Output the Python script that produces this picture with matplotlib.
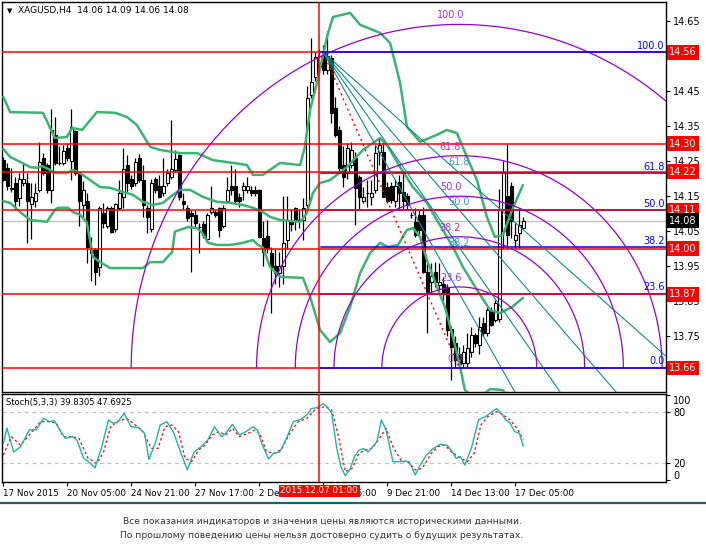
import numpy as np
import matplotlib.pyplot as plt
import matplotlib.transforms as mtransforms
from matplotlib.lines import Line2D

# XAGUSD H4, bars 0..130
opens = [14.254, 14.23, 14.17, 14.187, 14.146, 14.187, 14.187, 14.127, 14.135, 14.168,
         14.258, 14.239, 14.168, 14.325, 14.246, 14.246, 14.287, 14.251, 14.335, 14.216,
         14.125, 14.135, 13.997, 13.997, 13.947, 14.103, 14.066, 14.116, 14.057, 14.116,
         14.149, 14.239, 14.2, 14.187, 14.258, 14.197, 14.116, 14.057, 14.2, 14.178,
         14.159, 14.187, 14.206, 14.225, 14.268, 14.137, 14.116, 14.103, 14.097, 14.063,
         14.07, 14.027, 14.106, 14.106, 14.116, 14.066, 14.135, 14.18, 14.18, 14.149,
         14.168, 14.168, 14.168, 14.168, 14.168, 14.03, 14.037, 13.987, 13.95, 13.93,
         13.95, 14.025, 14.08, 14.116, 14.08, 14.082, 14.125, 14.439, 14.49, 14.52,
         14.56, 14.51, 14.544, 14.401, 14.339, 14.239, 14.215, 14.239, 14.258, 14.206,
         14.135, 14.16, 14.149, 14.168, 14.277, 14.277, 14.177, 14.18, 14.135, 14.19,
         14.163, 14.15, 14.097, 14.077, 14.096, 14.096, 13.935, 13.906, 13.935, 13.897,
         13.90, 13.892, 13.77, 13.73, 13.70, 13.673, 13.673, 13.707, 13.754, 13.726,
         13.787, 13.759, 13.825, 13.797, 13.80, 14.05, 14.15, 14.18, 14.025, 14.044,
         14.06]
highs = [14.261, 14.244, 14.23, 14.206, 14.216, 14.244, 14.216, 14.187, 14.187, 14.306,
         14.273, 14.244, 14.398, 14.377, 14.292, 14.297, 14.301, 14.398, 14.34, 14.22,
         14.192, 14.159, 14.035, 14.002, 14.121, 14.13, 14.121, 14.121, 14.13, 14.197,
         14.287, 14.268, 14.211, 14.258, 14.27, 14.24, 14.125, 14.2, 14.206, 14.211,
         14.258, 14.227, 14.368, 14.282, 14.27, 14.159, 14.125, 14.111, 14.11, 14.073,
         14.08, 14.102, 14.18, 14.11, 14.12, 14.125, 14.206, 14.24, 14.227, 14.16,
         14.19, 14.206, 14.18, 14.18, 14.17, 14.08, 14.082, 14.006, 14.00, 13.99,
         14.15, 14.15, 14.11, 14.12, 14.11, 14.144, 14.463, 14.601, 14.56, 14.57,
         14.58, 14.62, 14.553, 14.434, 14.349, 14.292, 14.301, 14.306, 14.277, 14.211,
         14.177, 14.196, 14.196, 14.296, 14.32, 14.306, 14.19, 14.19, 14.2, 14.21,
         14.215, 14.16, 14.106, 14.115, 14.111, 14.12, 13.959, 13.959, 13.963, 13.959,
         13.92, 13.90, 13.78, 13.75, 13.72, 13.726, 13.759, 13.778, 13.759, 13.806,
         13.806, 13.835, 13.835, 13.854, 14.17, 14.25, 14.30, 14.19, 14.073, 14.115,
         14.09]
lows = [14.192, 14.168, 14.163, 14.111, 14.121, 14.18, 14.016, 14.027, 14.12, 14.163,
        14.21, 14.16, 14.13, 14.239, 14.239, 14.239, 14.25, 14.197, 14.21, 14.066,
        14.092, 13.959, 13.907, 13.897, 13.921, 14.06, 14.058, 14.045, 14.049, 14.11,
        14.116, 14.159, 14.17, 14.18, 14.19, 14.092, 14.045, 14.049, 14.16, 14.144,
        14.15, 14.18, 14.2, 14.22, 14.14, 14.11, 14.08, 13.935, 14.06, 13.987,
        14.03, 14.025, 14.1, 14.09, 14.035, 14.06, 14.13, 14.154, 14.13, 14.12,
        14.14, 14.16, 14.15, 14.15, 14.03, 13.95, 13.987, 13.816, 13.90, 13.89,
        13.90, 14.00, 14.05, 14.054, 14.06, 14.025, 14.111, 14.43, 14.48, 14.50,
        14.50, 14.50, 14.358, 14.32, 14.215, 14.177, 14.2, 14.23, 14.068, 14.111,
        14.13, 14.12, 14.125, 14.16, 14.24, 14.149, 14.13, 14.13, 14.12, 14.11,
        14.11, 14.11, 14.087, 14.035, 14.04, 13.93, 13.759, 13.87, 13.892, 13.88,
        13.85, 13.75, 13.626, 13.659, 13.659, 13.659, 13.659, 13.69, 13.72, 13.70,
        13.75, 13.75, 13.78, 13.792, 13.79, 14.00, 14.00, 14.03, 14.001, 14.001,
        14.06]
closes = [14.197, 14.178, 14.172, 14.135, 14.199, 14.199, 14.135, 14.149, 14.159, 14.247,
          14.216, 14.168, 14.339, 14.244, 14.244, 14.279, 14.258, 14.347, 14.216, 14.135,
          14.168, 14.006, 13.987, 13.935, 14.116, 14.075, 14.116, 14.047, 14.127, 14.159,
          14.227, 14.187, 14.178, 14.249, 14.197, 14.125, 14.092, 14.187, 14.168, 14.147,
          14.178, 14.216, 14.227, 14.256, 14.147, 14.127, 14.087, 14.094, 14.075, 14.061,
          14.04, 14.097, 14.116, 14.097, 14.054, 14.116, 14.168, 14.168, 14.135, 14.135,
          14.178, 14.18, 14.159, 14.159, 14.035, 13.99, 14.001, 13.949, 13.93, 13.95,
          14.016, 14.082, 14.07, 14.082, 14.082, 14.116, 14.429, 14.477, 14.548, 14.55,
          14.51, 14.55, 14.387, 14.325, 14.23, 14.206, 14.287, 14.282, 14.173, 14.149,
          14.149, 14.158, 14.158, 14.272, 14.296, 14.149, 14.135, 14.14, 14.18, 14.16,
          14.135, 14.125, 14.095, 14.039, 14.054, 13.935, 13.873, 13.921, 13.906, 13.906,
          13.87, 13.768, 13.72, 13.683, 13.67, 13.707, 13.716, 13.754, 13.73, 13.778,
          13.759, 13.825, 13.783, 13.844, 14.11, 14.22, 14.04, 14.08, 14.039, 14.068,
          14.08]

# Bollinger bands (bar, price)
bb_up_x = [0, 1.7, 9.9, 12.9, 15.9, 17.2, 19.7, 23.4, 27.9, 30.9, 33.4, 36.7, 39.2, 44.2, 48.4,
           52.4, 57.4, 60.9, 62.4, 64.9, 69.2, 74.2, 75.4, 76.7, 78.4, 80.9, 82.4, 86.7, 89.2,
           94.2, 96.7, 99.2, 100.9, 104.2, 108.4, 110.9, 113.4, 115.9, 118.4, 120.9, 122.9,
           124.9, 127.2, 129.9]
bb_up_y = [14.433, 14.390, 14.388, 14.316, 14.319, 14.345, 14.339, 14.390, 14.388, 14.376,
           14.353, 14.291, 14.282, 14.273, 14.273, 14.253, 14.245, 14.239, 14.211, 14.211,
           14.245, 14.239, 14.291, 14.396, 14.473, 14.604, 14.661, 14.673, 14.639, 14.616,
           14.587, 14.473, 14.348, 14.305, 14.325, 14.339, 14.330, 14.262, 14.196, 14.091,
           14.034, 14.039, 14.111, 14.182]
bb_mid_x = [0, 1.7, 4.2, 6.7, 8.4, 9.7, 11.7, 12.9, 15.9, 17.4, 19.2, 21.7, 24.2, 26.7, 29.9,
            32.4, 34.9, 37.4, 39.9, 42.4, 44.2, 46.7, 49.9, 53.4, 56.7, 59.9, 62.4, 64.9, 66.7,
            69.2, 74.2, 75.9, 77.4, 79.2, 81.7, 85.9, 89.9, 94.2, 96.2, 99.2, 102.4, 105.9,
            108.4, 112.4, 114.9, 118.4, 121.7, 124.2, 127.2, 129.9]
bb_mid_y = [14.285, 14.262, 14.248, 14.233, 14.231, 14.236, 14.225, 14.216, 14.216, 14.225,
            14.216, 14.196, 14.176, 14.174, 14.162, 14.154, 14.134, 14.125, 14.131, 14.154,
            14.168, 14.168, 14.148, 14.134, 14.131, 14.125, 14.117, 14.105, 14.091, 14.082,
            14.077, 14.102, 14.159, 14.188, 14.196, 14.233, 14.282, 14.316, 14.291, 14.233,
            14.176, 14.131, 14.082, 14.005, 13.948, 13.883, 13.825, 13.817, 13.834, 13.860]
bb_low_x = [0, 1.7, 4.2, 6.7, 10.9, 12.9, 13.7, 16.2, 17.4, 19.2, 20.9, 22.4, 24.2, 26.7, 31.7,
            34.9, 36.7, 39.9, 42.2, 42.9, 44.2, 46.2, 48.4, 49.7, 51.2, 53.4, 56.7, 59.9, 62.4,
            63.7, 64.9, 66.7, 69.2, 74.9, 76.7, 79.2, 81.7, 84.2, 86.7, 89.2, 91.7, 94.2, 96.2,
            98.7, 100.9, 102.4, 104.2, 105.9, 108.4, 110.4, 112.4, 114.2, 115.4, 118.4, 121.7,
            124.9, 127.2, 129.9]
bb_low_y = [14.136, 14.131, 14.105, 14.082, 14.077, 14.111, 14.117, 14.117, 14.105, 14.097,
            14.074, 13.977, 13.962, 13.945, 13.945, 13.945, 13.962, 13.962, 13.991, 14.049,
            14.054, 14.062, 14.059, 14.046, 14.017, 14.011, 14.011, 14.017, 14.025, 14.011,
            14.003, 13.948, 13.920, 13.917, 13.863, 13.768, 13.734, 13.760, 13.834, 13.931,
            13.988, 14.017, 14.005, 14.011, 14.054, 14.059, 14.034, 13.968, 13.891, 13.834,
            13.748, 13.663, 13.597, 13.570, 13.600, 13.597, 13.557, 13.538]

# Stochastic (5,3,3)
stoch_k_x = [0, 0.9, 2.6, 4.3, 6.5, 8.2, 10.1, 11.6, 12.7, 14.4, 15.5, 17.2, 18.4, 20.1, 21.7,
             22.9, 24.6, 26.3, 27.4, 28.5, 30.2, 31.9, 33.6, 35.3, 36.4, 38.1, 39.2, 40.9, 42.6,
             44.3, 46.0, 47.7, 49.4, 51.1, 52.8, 54.5, 55.6, 57.3, 59.0, 60.7, 62.4, 63.5, 64.6,
             66.3, 67.5, 69.1, 70.8, 72.5, 74.2, 75.9, 77.0, 78.7, 79.9, 81.0, 82.1, 83.3, 84.4,
             85.5, 86.6, 87.8, 88.9, 90.0, 91.2, 92.3, 93.4, 94.5, 95.7, 97.4, 99.1, 100.8, 101.9,
             103.0, 104.1, 105.8, 107.5, 109.2, 110.9, 112.0, 113.2, 114.3, 115.4, 117.1, 118.8,
             120.5, 122.2, 123.3, 124.5, 125.6, 126.7, 127.8, 129.0, 130.0]
stoch_k = [43, 61, 33, 39, 59, 59, 72.5, 68.6, 70, 57, 49, 51, 47, 25.5, 20, 14, 39, 70.6, 67,
           67.5, 78.4, 62.7, 62, 55, 24, 45, 64.7, 68.6, 55.7, 33, 12, 33, 39, 47, 62.7, 51, 55,
           65.5, 53, 57, 62.7, 59, 43, 24.7, 31, 33, 49, 68.6, 71, 76.5, 84, 85.5, 90, 86, 78.4,
           39, 15.7, 5, 12, 27.5, 35, 37, 33, 39, 45, 70.6, 59, 21.6, 21.6, 22.4, 17.6, 6, 16.5,
           29.4, 37, 42, 41, 35, 25.5, 27.5, 17.6, 39, 70.6, 74.5, 80.4, 84, 78.4, 70.6, 67, 57,
           55, 39.83]
stoch_d_x = [0, 2.0, 4.3, 6.5, 9.3, 11.6, 13.3, 15.0, 17.2, 18.9, 21.2, 23.4, 25.1, 26.8, 28.5,
             30.8, 33.0, 34.7, 37.0, 38.7, 40.4, 42.1, 43.8, 45.4, 47.1, 48.8, 50.5, 52.2, 53.9,
             55.6, 57.3, 59.0, 61.2, 62.9, 64.1, 65.8, 68.0, 69.7, 71.4, 73.7, 75.9, 78.2, 80.4,
             82.1, 83.8, 85.5, 87.2, 88.9, 90.6, 92.3, 94.0, 95.7, 97.4, 99.6, 101.3, 103.0,
             104.7, 107.0, 108.7, 110.3, 112.0, 113.7, 116.0, 117.7, 119.4, 121.1, 123.3, 125.0,
             126.7, 128.4, 130.0]
stoch_d = [29.4, 51, 41, 53, 68.6, 68.6, 66.7, 51, 51, 49, 25.5, 19.6, 33.3, 62.7, 68.6, 72.5,
           64.7, 58.8, 37.3, 37.3, 62.7, 64.7, 56.9, 25.5, 21.6, 35.3, 41.2, 52.9, 56.9, 52.9,
           60.8, 51, 54.9, 58.8, 54.9, 33.3, 31.4, 37.3, 52.9, 68.6, 72.5, 84.3, 86.3, 82.4, 51,
           9.8, 13.7, 31.4, 35.3, 37.3, 49, 60.8, 39.2, 21.6, 21.6, 11.8, 13.7, 31.4, 39.2, 41.2,
           33.3, 27.5, 21.6, 31.4, 64.7, 74.5, 80.4, 76.5, 70.6, 60.8, 47.69]

date_ticks = [0, 16, 32, 48, 64, 80, 96, 112, 128]
date_labels = ["17 Nov 2015", "20 Nov 05:00", "24 Nov 21:00", "27 Nov 17:00", "2 Dec 09:00",
               "7 Dec 05:00", "9 Dec 21:00", "14 Dec 13:00", "17 Dec 05:00"]
cursor_bar = 79
cursor_label = "2015.12.07 01:00"

red_levels = [14.56, 14.30, 14.22, 14.11, 14.00, 13.87, 13.66]
bid = 14.08
price_ticks = [13.65, 13.75, 13.85, 13.95, 14.05, 14.15, 14.25, 14.35, 14.45, 14.55, 14.65]

fib_hi_bar, fib_hi = 80, 14.56
fib_lo_bar, fib_lo = 114, 13.66
fib_levels = [0.0, 23.6, 38.2, 50.0, 61.8, 100.0]
arc_levels = [23.6, 38.2, 50.0, 61.8, 100.0]
fan_levels = [23.6, 38.2, 50.0, 61.8]

title = "XAGUSD,H4  14.06 14.09 14.06 14.08"
stoch_title = "Stoch(5,3,3) 39.8305 47.6925"
footer = ["Все показания индикаторов и значения цены являются историческими данными.",
          "По прошлому поведению цены нельзя достоверно судить о будущих результатах."]

# ---- layout ----
W, H = 706, 552
fig = plt.figure(figsize=(W / 100, H / 100), dpi=100)
fig.patch.set_facecolor("white")


def box(l, t, r, b):
    return [l / W, 1 - b / H, (r - l) / W, (b - t) / H]


ax = fig.add_axes(box(2, 2, 666, 392))
ax2 = fig.add_axes(box(2, 394, 666, 482))
xmin, xmax = -0.33, 165.67
ax.set_xlim(xmin, xmax)
ax.set_ylim(13.5915, 14.704)
ax2.set_xlim(xmin, xmax)
ax2.set_ylim(-2.35, 101.2)

px_bar = 664 / (xmax - xmin)
px_price = 390 / (14.704 - 13.5915)

GREEN = "#3cb371"
PURPLE = "#9400d3"
TEAL = "#108a8a"

# candles
o = np.array(opens); h = np.array(highs); l = np.array(lows); c = np.array(closes)
x = np.arange(len(o))
ax.vlines(x, l, h, color="black", lw=0.9, zorder=2)
up = c >= o
body_lo = np.minimum(o, c)
body_h = np.maximum(np.abs(c - o), 0.002)
ax.bar(x[up], body_h[up], 0.62, bottom=body_lo[up], color="white", edgecolor="black", lw=0.8, zorder=2.2)
ax.bar(x[~up], body_h[~up], 0.62, bottom=body_lo[~up], color="black", edgecolor="black", lw=0.8, zorder=2.2)

# bid line
ax.axhline(bid, color="#c0c0c0", lw=1, zorder=1.5)

# bollinger
for bx, by in [(bb_up_x, bb_up_y), (bb_mid_x, bb_mid_y), (bb_low_x, bb_low_y)]:
    ax.plot(bx, by, color=GREEN, lw=1.8, zorder=3, solid_capstyle="round")

# red horizontal lines
for p in red_levels:
    ax.axhline(p, color="red", lw=1.1, zorder=4)

# fibo retracement
rng = fib_hi - fib_lo
for lv in fib_levels:
    p = fib_lo + lv / 100 * rng
    ax.plot([fib_hi_bar - 0.6, xmax], [p, p], color="blue", lw=1.1,
            zorder=4.5 if lv in (0.0, 100.0) else 3.8)
    ax.text(xmax - 0.4, p + 1.5 / px_price, f"{lv:.1f}", ha="right", va="bottom",
            color="blue", fontsize=7, zorder=6)

# trend line high -> low
ax.plot([fib_hi_bar, fib_lo_bar], [fib_hi, fib_lo], color="red", lw=1, ls=(0, (1.5, 2.5)), zorder=4)

# fibo fan
for lv in fan_levels:
    py = fib_lo + lv / 100 * rng
    slope = (py - fib_hi) / (fib_lo_bar - fib_hi_bar)
    ax.plot([fib_hi_bar, 200], [fib_hi, fib_hi + slope * (200 - fib_hi_bar)],
            color=TEAL, lw=0.8, zorder=4)

# fibo arcs
r_px = np.hypot((fib_lo_bar - fib_hi_bar) * px_bar, rng * px_price)
t = np.linspace(0, np.pi, 300)
for lv in arc_levels:
    ry = lv / 100 * r_px / px_price
    rx = lv / 100 * r_px * 0.955 / px_bar
    ax.plot(fib_lo_bar + rx * np.cos(t), fib_lo + ry * np.sin(t), color=PURPLE, lw=0.9, zorder=4)
    top = fib_lo + ry
    ax.text(fib_lo_bar - 2.2, top + 4 / px_price, f"{lv:.1f}", ha="center", va="bottom",
            color="#a030e0", fontsize=7, zorder=6)
    if lv in (38.2, 50.0, 61.8):
        ax.text(fib_lo_bar, top - 1 / px_price, f"{lv:.1f}", ha="center", va="top",
                color="#3a9bb0", fontsize=7, zorder=6)
ax.text(fib_lo_bar - 1.2, fib_lo + 4 / px_price, "0.0", ha="center", va="bottom",
        color="#c050e0", fontsize=7, zorder=6)

# cursor line
for a in (ax, ax2):
    a.axvline(cursor_bar, color="red", lw=1.1, zorder=5)

# stochastic
ax2.axhline(80, color="#c0c0c0", lw=0.9, ls=(0, (3, 3)))
ax2.axhline(20, color="#c0c0c0", lw=0.9, ls=(0, (3, 3)))
ax2.plot(stoch_d_x, stoch_d, color="red", lw=0.9, ls=(0, (2, 2)), zorder=3)
ax2.plot(stoch_k_x, stoch_k, color="#20b2aa", lw=1.0, zorder=3.5)

# axes styling
for a in (ax, ax2):
    for s in a.spines.values():
        s.set_color("black")
        s.set_linewidth(1.0)
    a.yaxis.tick_right()
    a.tick_params(axis="y", length=3, width=0.8, labelsize=7, pad=2, colors="black")

ax.set_xticks([])
ax.set_yticks(price_ticks)
ax.set_yticklabels([f"{p:.2f}" for p in price_ticks])

ax2.set_yticks([0, 20, 80, 100])
ax2.set_yticklabels(["0", "20", "80", "100"])
lbls = ax2.get_yticklabels()
lbls[0].set_transform(lbls[0].get_transform() + mtransforms.ScaledTranslation(0, 0.05, fig.dpi_scale_trans))
lbls[3].set_transform(lbls[3].get_transform() + mtransforms.ScaledTranslation(0, -0.05, fig.dpi_scale_trans))

ax2.set_xticks(date_ticks)
ax2.set_xticklabels(date_labels, ha="left")
ax2.tick_params(axis="x", length=3, width=0.8, labelsize=6.3, pad=2)

# price boxes on the right axis
for p in red_levels:
    ax.text(1 + 3 / 664, p, f"{p:.2f}", transform=ax.get_yaxis_transform(), ha="left", va="center",
            color="white", fontsize=7, zorder=10, clip_on=False,
            bbox=dict(boxstyle="square,pad=0.25", fc="red", ec="none"))
ax.text(1 + 3 / 664, bid, f"{bid:.2f}", transform=ax.get_yaxis_transform(), ha="left", va="center",
        color="white", fontsize=7, zorder=10, clip_on=False,
        bbox=dict(boxstyle="square,pad=0.25", fc="black", ec="none"))

# cursor time box
ax2.text(cursor_bar, -0.1, cursor_label, transform=ax2.get_xaxis_transform(), ha="center",
         va="center", color="white", fontsize=6.3, zorder=10, clip_on=False,
         bbox=dict(boxstyle="square,pad=0.2", fc="red", ec="none"))

# headers
fig.text(7 / W, 1 - 11 / H, "\u25bc", fontsize=5, va="center", ha="left")
fig.text(18 / W, 1 - 11 / H, title, fontsize=6.5, va="center", ha="left")
fig.text(6 / W, 1 - 402 / H, stoch_title, fontsize=6, va="center", ha="left")

# separator + footer
fig.add_artist(Line2D([0, 1], [1 - 503 / H, 1 - 503 / H], transform=fig.transFigure,
                      color="#2b5b6b", lw=1.6))
fig.text(322 / W, 1 - 522 / H, footer[0], fontsize=6.6, color="#333333", ha="center", va="center")
fig.text(322 / W, 1 - 535 / H, footer[1], fontsize=6.6, color="#333333", ha="center", va="center")

fig.savefig("out.png", dpi=100, facecolor="white")
